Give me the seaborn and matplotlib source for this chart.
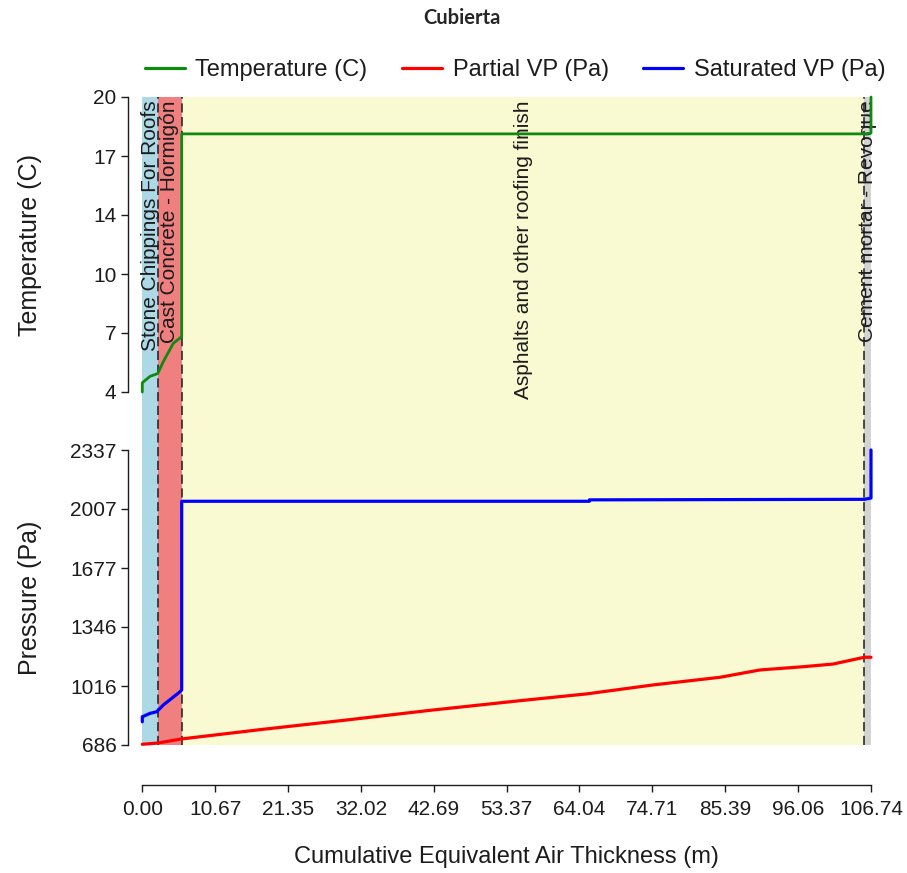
import matplotlib
matplotlib.use("Agg")
import matplotlib.pyplot as plt
import seaborn as sns
from matplotlib.lines import Line2D

sns.set_theme(style="ticks")
plt.rcParams['font.family'] = ['Liberation Sans', 'DejaVu Sans']

# layers of the roof, cumulative equivalent air thickness (m)
layer_names = ["Stone Chippings For Roofs", "Cast Concrete - Hormigón",
               "Asphalts and other roofing finish", "Cement mortar - Revoque"]
layer_edges = [0.0, 2.26, 5.77, 105.76, 106.74]
layer_colors = ["#ADD8E6", "#F08080", "#FAFAD2", "#D3D3D3"]

# temperature profile (C)
temp_x = [0.0, 0.0, 1.13, 2.26, 3.08, 4.54, 5.77, 5.77, 105.76, 106.74, 106.74]
temp_c = [4.0, 4.5, 4.85, 5.0, 5.65, 6.64, 7.0, 18.0, 18.0, 18.04, 20.0]

# saturated vapour pressure (Pa)
svp_x = [0.0, 0.0, 1.13, 2.1, 3.08, 5.52, 5.77, 5.77, 65.5, 65.5, 105.76, 106.74, 106.74]
svp_pa = [816, 844, 863, 872, 910, 984, 994, 2050, 2050, 2058, 2061, 2068, 2337]

# partial vapour pressure (Pa)
pvp_x = [0.0, 2.26, 5.77, 17.72, 29.94, 42.14, 55.32, 65.09, 74.80, 84.62,
         90.48, 96.78, 101.17, 105.76, 106.74]
pvp_pa = [690, 697, 720, 774, 826, 880, 934, 972, 1022, 1065,
          1106, 1124, 1139, 1177, 1177]

x_ticks = [0.0, 10.67, 21.35, 32.02, 42.69, 53.37, 64.04, 74.71, 85.39, 96.06, 106.74]
x_tick_labels = ["0.00", "10.67", "21.35", "32.02", "42.69", "53.37",
                 "64.04", "74.71", "85.39", "96.06", "106.74"]
temp_ticks = [4, 7.2, 10.4, 13.6, 16.8, 20]
temp_tick_labels = ["4", "7", "10", "14", "17", "20"]
pres_ticks = [686, 1016.2, 1346.4, 1676.6, 2006.8, 2337]
pres_tick_labels = ["686", "1016", "1346", "1677", "2007", "2337"]

W, H = 907, 873
fig = plt.figure(figsize=(W / 100, H / 100), dpi=100)


def box(l, t, r, b):
    return [l / W, 1 - b / H, (r - l) / W, (b - t) / H]


x_max = layer_edges[-1]
ax_bg = fig.add_axes(box(142.3, 97, 871, 745))
ax_t = fig.add_axes(box(142.3, 97, 871, 392))
ax_p = fig.add_axes(box(142.3, 450, 871, 745))

ink = "#1c1c1c"

# background layers
for i, name in enumerate(layer_names):
    ax_bg.axvspan(layer_edges[i], layer_edges[i + 1], color=layer_colors[i], lw=0)
    mid = (layer_edges[i] + layer_edges[i + 1]) / 2
    ax_bg.text(mid, 0.995, name, rotation=90, ha="center", va="top",
               fontsize=15, color=ink)
for e in layer_edges[1:-1]:
    ax_bg.axvline(e, color=ink, lw=1.1, ls=(0, (6, 3)))
ax_bg.set_xlim(0, x_max)
ax_bg.set_ylim(0, 1)
ax_bg.axis("off")

green, red, blue = "#0f8a0f", "#ff0000", "#0000ff"
sns.lineplot(x=temp_x, y=temp_c, ax=ax_t, color=green, linewidth=2,
             estimator=None, sort=False, clip_on=False)
sns.lineplot(x=pvp_x, y=pvp_pa, ax=ax_p, color=red, linewidth=2.3,
             estimator=None, sort=False, clip_on=False)
sns.lineplot(x=svp_x, y=svp_pa, ax=ax_p, color=blue, linewidth=2.3,
             estimator=None, sort=False, clip_on=False)

for ax in (ax_t, ax_p):
    ax.set_facecolor("none")
    ax.set_xlim(0, x_max)
    ax.spines["top"].set_visible(False)
    ax.spines["right"].set_visible(False)
    ax.spines["left"].set_position(("outward", 10.5))
    ax.tick_params(length=5, width=1, labelsize=15, colors=ink, pad=3)
    ax.tick_params(axis="x", pad=6)
    for s in ax.spines.values():
        s.set_color(ink)
        s.set_linewidth(1)

ax_t.set_ylim(4, 20)
ax_t.set_yticks(temp_ticks, temp_tick_labels)
ax_t.spines["left"].set_bounds(4, 20)
ax_t.spines["bottom"].set_visible(False)
ax_t.set_xticks([])
ax_t.set_xlabel("")
ax_t.set_ylabel("Temperature (C)", fontsize=18, color=ink)
ax_t.yaxis.set_label_coords((30 - 142.3) / 728.7, 0.5)
ax_t.yaxis.label.set_va("center")

ax_p.set_ylim(686, 2337)
ax_p.set_yticks(pres_ticks, pres_tick_labels)
ax_p.spines["left"].set_bounds(686, 2337)
ax_p.spines["bottom"].set_position(("outward", 28.8))
ax_p.spines["bottom"].set_bounds(0, x_max)
ax_p.set_xticks(x_ticks, x_tick_labels)
ax_p.set_ylabel("Pressure (Pa)", fontsize=18, color=ink)
ax_p.yaxis.set_label_coords((30 - 142.3) / 728.7, 0.5)
ax_p.yaxis.label.set_va("center")
ax_p.set_xlabel("Cumulative Equivalent Air Thickness (m)", fontsize=17, color=ink)
ax_p.xaxis.set_label_coords(0.5, (745 - 857) / 295)
ax_p.xaxis.label.set_va("center")

handles = [Line2D([], [], color=green, lw=2.3),
           Line2D([], [], color=red, lw=2.3),
           Line2D([], [], color=blue, lw=2.3)]
fig.legend(handles, ["Temperature (C)", "Partial VP (Pa)", "Saturated VP (Pa)"],
           loc="center", bbox_to_anchor=(515 / W, 1 - 70 / H), ncol=3,
           frameon=False, fontsize=17, handlelength=1.7, handletextpad=0.45,
           columnspacing=1.45, labelcolor=ink)

fig.text(462 / W, 1 - 18 / H, "Cubierta", ha="center", va="center",
         fontsize=14.5, fontweight="bold", family=["Lato", "DejaVu Sans"])

fig.savefig("out.png", dpi=100)
